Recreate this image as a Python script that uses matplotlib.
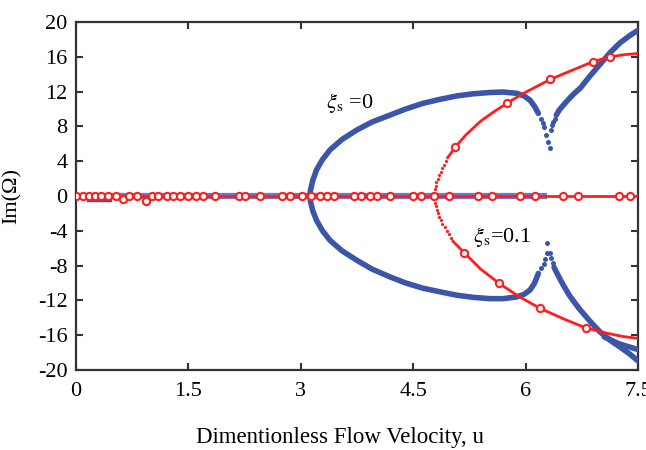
import matplotlib
matplotlib.use("Agg")
import matplotlib.pyplot as plt

plt.rcParams['font.family'] = ['Liberation Serif', 'DejaVu Serif']
plt.rcParams['mathtext.fontset'] = 'stix'
plt.rcParams['axes.unicode_minus'] = False

# ---------------- data ----------------
x_ticks = [0, 1.5, 3, 4.5, 6, 7.5]
x_ticklabels = ["0", "1.5", "3", "4.5", "6", "7.5"]
y_ticks = [20, 16, 12, 8, 4, 0, -4, -8, -12, -16, -20]
y_ticklabels = ["20", "16", "12", "8", "4", "0", "-4", "-8", "-12", "-16", "-20"]

# xi_s = 0 (blue)
blue_zero_u = [0.0, 6.28]
blue_zero_y = [0.0, 0.0]
blue_dip_u = [0.16, 0.45]
blue_dip_y = [-0.45, -0.45]

blue_up1_u = [3.12, 3.13, 3.16, 3.21, 3.29, 3.39, 3.55, 3.75, 3.95, 4.19, 4.40, 4.63, 4.85, 5.08, 5.30, 5.53, 5.70, 5.88, 5.98, 6.06, 6.12, 6.17]
blue_up1_y = [0.0, 0.7, 1.8, 3.0, 4.2, 5.3, 6.5, 7.6, 8.5, 9.3, 10.0, 10.65, 11.1, 11.5, 11.75, 11.9, 11.95, 11.8, 11.5, 11.0, 10.3, 9.5]
blue_up1_dots_u = [6.21, 6.23, 6.25, 6.27, 6.30, 6.32]
blue_up1_dots_y = [8.9, 8.4, 7.9, 7.0, 6.2, 5.5]

blue_up2_dots_u = [6.34, 6.35, 6.37, 6.39]
blue_up2_dots_y = [7.6, 8.2, 8.5, 8.9]
blue_up2_u = [6.41, 6.45, 6.55, 6.65, 6.73, 6.85, 6.99, 7.13, 7.26, 7.40, 7.53]
blue_up2_y = [9.3, 9.9, 10.9, 11.8, 12.4, 13.7, 15.1, 16.5, 17.6, 18.5, 19.2]

blue_lo1_u = [3.12, 3.13, 3.16, 3.21, 3.29, 3.39, 3.55, 3.75, 3.95, 4.19, 4.40, 4.63, 4.85, 5.08, 5.30, 5.53, 5.70, 5.88, 5.98, 6.06, 6.12, 6.17]
blue_lo1_y = [0.0, -0.65, -1.7, -2.8, -4.0, -5.1, -6.3, -7.4, -8.4, -9.3, -10.0, -10.6, -11.0, -11.4, -11.65, -11.8, -11.8, -11.6, -11.3, -10.8, -10.0, -8.9]
blue_lo1_dots_u = [6.21, 6.24, 6.26, 6.28, 6.28]
blue_lo1_dots_y = [-8.3, -7.8, -7.2, -6.6, -5.4]

blue_lo2_dots_u = [6.32, 6.34, 6.36]
blue_lo2_dots_y = [-6.5, -7.1, -7.7]
blue_lo2_u = [6.38, 6.42, 6.50, 6.59, 6.72, 6.86, 6.99, 7.13, 7.25, 7.38, 7.52]
blue_lo2_y = [-8.2, -8.9, -10.2, -11.5, -13.0, -14.4, -15.6, -16.6, -17.3, -18.1, -19.1]
blue_lo3_u = [7.05, 7.25, 7.52]
blue_lo3_y = [-16.2, -17.0, -17.7]

# xi_s = 0.1 (red)
red_zero_u = [0.0, 7.52]
red_zero_y = [0.0, 0.0]
red_zero_mark_u = [0, 0.10, 0.18, 0.25, 0.34, 0.43, 0.54, 0.63, 0.71, 0.81, 0.93, 1.02, 1.10,
                   1.21, 1.30, 1.39, 1.50, 1.60, 1.70, 1.86, 2.17, 2.26, 2.46, 2.75, 2.86,
                   3.01, 3.13, 3.25, 3.35, 3.44, 3.71, 3.81, 3.92, 4.02, 4.19, 4.50, 4.60,
                   4.78, 4.98, 5.36, 5.55, 5.93, 6.13, 6.50, 6.70, 7.25, 7.39]
red_zero_mark_y = [0, 0, 0, 0, 0, 0, 0, -0.3, 0, 0, -0.6, 0, 0,
                   0, 0, 0, 0, 0, 0, 0, 0, 0, 0, 0, 0,
                   0, 0, 0, 0, 0, 0, 0, 0, 0, 0, 0, 0,
                   0, 0, 0, 0, 0, 0, 0, 0, 0, 0]

red_up_dots_u = [4.78, 4.79, 4.80, 4.81, 4.83, 4.85, 4.87, 4.89, 4.91, 4.94]
red_up_dots_y = [0.4, 0.8, 1.2, 1.6, 2.0, 2.4, 2.8, 3.2, 3.6, 4.0]
red_up_u = [4.96, 5.06, 5.20, 5.40, 5.58, 5.75, 5.95, 6.15, 6.33, 6.55, 6.72, 6.90, 7.13, 7.32, 7.53]
red_up_y = [4.4, 5.6, 7.0, 8.6, 9.7, 10.65, 11.7, 12.6, 13.4, 14.2, 14.8, 15.45, 16.0, 16.25, 16.4]
red_up_mark_u = [5.06, 5.75, 6.33, 6.90, 7.13]
red_up_mark_y = [5.6, 10.65, 13.4, 15.45, 16.0]

red_lo_dots_u = [4.78, 4.79, 4.80, 4.82, 4.83, 4.85, 4.87, 4.89, 4.92, 4.95, 4.98, 5.01]
red_lo_dots_y = [-0.4, -0.8, -1.2, -1.6, -2.0, -2.4, -2.8, -3.2, -3.6, -4.0, -4.4, -4.8]
red_lo_u = [5.03, 5.18, 5.40, 5.64, 5.90, 6.19, 6.50, 6.80, 7.10, 7.30, 7.53]
red_lo_y = [-5.2, -6.5, -8.4, -10.0, -11.5, -12.9, -14.1, -15.15, -15.8, -16.15, -16.4]
red_lo_mark_u = [5.18, 5.64, 6.19, 6.80]
red_lo_mark_y = [-6.5, -10.0, -12.9, -15.15]

# ---------------- figure ----------------
BLUE = "#3b55a8"
BLUE_MID = "#6a7cc6"
RED = "#ff1e1e"

fig = plt.figure(figsize=(6.46, 4.50), dpi=100)
ax = fig.add_axes([76 / 646, 80 / 450, 562 / 646, 348 / 450])

# blue
ax.plot(blue_zero_u, blue_zero_y, color=BLUE_MID, lw=4.5, solid_capstyle='butt', zorder=2)
ax.plot(blue_dip_u, blue_dip_y, color=BLUE, lw=2.5, zorder=2)
for u, y in [(blue_up1_u, blue_up1_y), (blue_up2_u, blue_up2_y),
             (blue_lo1_u, blue_lo1_y), (blue_lo2_u, blue_lo2_y), (blue_lo3_u, blue_lo3_y)]:
    ax.plot(u, y, color=BLUE, lw=4.0, solid_capstyle='round', zorder=3)
for u, y in [(blue_up1_dots_u, blue_up1_dots_y), (blue_up2_dots_u, blue_up2_dots_y),
             (blue_lo1_dots_u, blue_lo1_dots_y), (blue_lo2_dots_u, blue_lo2_dots_y)]:
    ax.plot(u, y, 'o', color=BLUE, ms=3.6, mew=0, zorder=3)

# red
ax.plot(red_zero_u, red_zero_y, color=RED, lw=2.0, zorder=4)
ax.plot(red_up_u, red_up_y, color=RED, lw=2.0, zorder=4)
ax.plot(red_lo_u, red_lo_y, color=RED, lw=2.0, zorder=4)
ax.plot(red_up_dots_u, red_up_dots_y, 'o', color=RED, ms=2.3, mew=0, zorder=4)
ax.plot(red_lo_dots_u, red_lo_dots_y, 'o', color=RED, ms=2.3, mew=0, zorder=4)
for u, y in [(red_zero_mark_u, red_zero_mark_y), (red_up_mark_u, red_up_mark_y),
             (red_lo_mark_u, red_lo_mark_y)]:
    ax.plot(u, y, 'o', ms=5.2, mfc='white', mec=RED, mew=1.5, zorder=5)

ax.text(3.34, 10.7, r"$\xi_{\rm s}$ =0", fontsize=16, va='center', ha='left')
ax.text(5.30, -4.7, r"$\xi_{\rm s}$=0.1", fontsize=16, va='center', ha='left')

ax.set_xlim(0, 7.5)
ax.set_ylim(-20, 20)
ax.set_xticks(x_ticks)
ax.set_xticklabels(x_ticklabels)
ax.set_yticks(y_ticks)
ax.set_yticklabels(y_ticklabels)

for s in ax.spines.values():
    s.set_color('#333333')
    s.set_linewidth(1.6)
ax.tick_params(direction='in', length=5, width=1.5, color='#333333', labelsize=16,
               top=True, right=True)
ax.tick_params(axis='x', pad=9)
ax.tick_params(axis='y', pad=6)

ax.set_xlabel("Dimentionless Flow Velocity, u", fontsize=16.5)
ax.set_ylabel("Im(Ω)", fontsize=16)
ax.xaxis.set_label_coords(0.47, -0.165)
ax.yaxis.set_label_coords(-0.096, 0.5)

fig.savefig("out.png", dpi=100)
